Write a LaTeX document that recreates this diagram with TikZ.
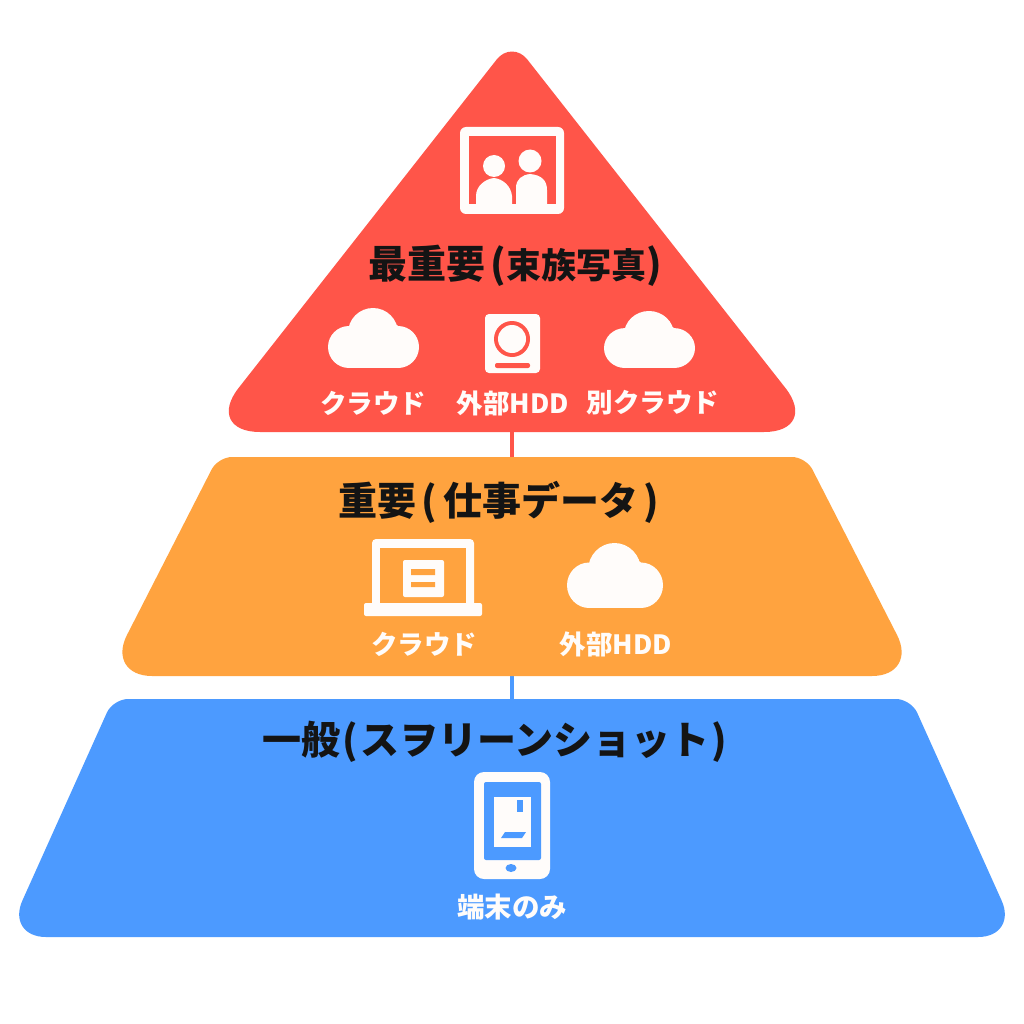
\documentclass[tikz,border=0pt]{standalone}
\usepackage{fontspec}
\setmainfont{Noto Sans CJK JP}
\newfontfamily\medjp{Noto Sans CJK JP Medium}
\definecolor{tred}{HTML}{FF5549}
\definecolor{torange}{HTML}{FFA33F}
\definecolor{tblue}{HTML}{4C9AFF}
\definecolor{icon}{HTML}{FFFCFA}
\definecolor{ink}{HTML}{141414}
\newcommand{\titlesz}{\fontsize{39}{39}\selectfont}
\newcommand{\smallt}{\fontsize{35}{39}\selectfont}
\tikzset{
  title/.style={font=\titlesz\bfseries,text=ink,inner sep=0pt,anchor=center},
  lab/.style={font=\fontsize{26.5}{27}\selectfont\bfseries,text=icon,inner sep=0pt,anchor=center},
  link/.style={line width=4pt},
}
\newcommand{\cloudicon}[4]{%
  \begin{scope}[shift={(#1,#2)},xscale=#3/91,yscale=#4/60]
    \fill[icon] (21,39) circle (21) (70,39) circle (21) (45,25) circle (25) (20,33) circle (13) (64,28) circle (12);
    \fill[icon] (21,30) rectangle (70,60);
  \end{scope}}
\begin{document}
\begin{tikzpicture}[x=1pt,y=-1pt]
\useasboundingbox (0,0) rectangle (1024,1024);
\fill[white] (0,0) rectangle (1024,1024);
% tier anchors
\coordinate (redbase) at (512,432);
\coordinate (orangetop) at (512,457);
\coordinate (orangebase) at (512,676);
\coordinate (bluetop) at (512,699);
\draw[link,tred] (redbase) -- (orangetop);
\draw[link,tblue] (orangebase) -- (bluetop);
% tiers
\fill[tred] [rounded corners=25pt] (512,40) [rounded corners=56pt] -- (204,432) -- (820,432) [rounded corners=25pt] -- cycle;
\fill[torange] [rounded corners=14pt] (218,457) -- (806,457) [rounded corners=46pt] -- (918,676) -- (106,676) [rounded corners=14pt] -- cycle;
\fill[tblue] [rounded corners=15pt] (113,699) -- (911,699) [rounded corners=40pt] -- (1018,937) -- (6,937) [rounded corners=15pt] -- cycle;
% titles
\node[title] (t1) at (515,266) {最重要\hspace{5pt}({\smallt 束族写真})};
\node[title] (t2) at (499,502) {重要\hspace{5pt}(\hspace{6pt}仕事データ\hspace{5pt})};
\node[title] (t3) at (495,742) {一般\hspace{2pt}(\hspace{2pt}スヲリーンショット\hspace{2pt})};
% photo icon
\fill[icon,rounded corners=6pt] (460,127) rectangle (564,214);
\fill[tred] (469,136) rectangle (556,204);
\fill[icon] (494,166) circle (11) (530,161) circle (11.5);
\fill[icon] (476,204) -- (476,196) .. controls (476,186) and (485,179) .. (494,178) .. controls (503,179) and (511,186) .. (512,196) -- (512,204) -- cycle;
\fill[icon] (516,204) -- (516,188) .. controls (516,179) and (522,175) .. (530,174) .. controls (541,175) and (547,180) .. (547,190) -- (547,204) -- cycle;
% clouds
\cloudicon{328}{308}{91}{60}
\cloudicon{604}{311}{91}{57}
\cloudicon{567}{543}{96}{65}
% hdd
\fill[icon,rounded corners=4pt] (485,314) rectangle (540,373);
\fill[tred] (512,339) circle (18);
\fill[icon] (512,339) circle (14);
\fill[tred,rounded corners=2pt] (495,363) rectangle (530,368);
% laptop
\fill[icon,rounded corners=4pt] (372,539) rectangle (474,610);
\fill[torange] (380,548) rectangle (466,603);
\fill[icon,rounded corners=2pt] (364,603) rectangle (482,616);
\fill[icon,rounded corners=2pt] (403,560) rectangle (444,597);
\fill[torange] (411,569) rectangle (435,575) (411,582) rectangle (435,587);
% phone
\fill[icon,rounded corners=10pt] (474,772) rectangle (550,879);
\fill[tblue,rounded corners=2pt] (484,782) rectangle (541,860);
\fill[icon] (494,797) rectangle (531,847);
\fill[tblue] (517,800) rectangle (523,812);
\fill[tblue] (505,832) -- (526,832) -- (522,838) -- (501,838) -- cycle;
\fill[tblue] (511,868) ellipse (5.5 and 4);
% labels
\node[lab] (l1) at (373,403) {クラウド};
\node[lab] (l2) at (513,403) {外部{\medjp HDD}};
\node[lab] (l3) at (653,403) {別クラウド};
\node[lab] (l4) at (424,644) {クラウド};
\node[lab] (l5) at (616,644) {外部{\medjp HDD}};
\node[lab,font=\fontsize{27.5}{28}\selectfont\bfseries] (l6) at (512,907) {端末のみ};
\end{tikzpicture}
\end{document}
